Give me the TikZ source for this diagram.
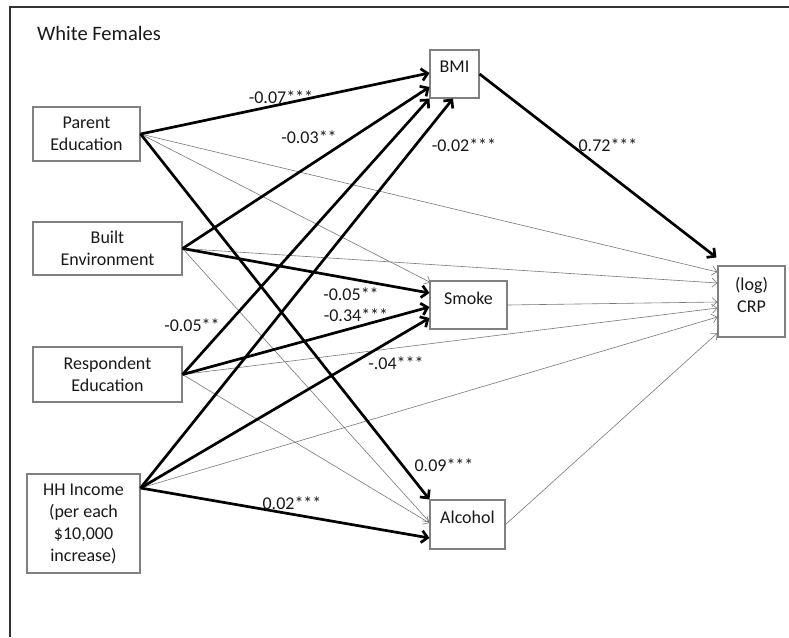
\documentclass[tikz,border=0pt]{standalone}
\usepackage{fontspec}
\setmainfont{Carlito}
\usetikzlibrary{arrows.meta,calc}
\definecolor{boxgray}{RGB}{128,128,128}
\definecolor{linegray}{RGB}{120,120,120}
\definecolor{txt}{RGB}{25,25,25}
\definecolor{framec}{RGB}{50,50,50}
\begin{document}
\begin{tikzpicture}[x=1pt,y=-1pt,
  box/.style={draw=boxgray, line width=1.1pt, fill=white, inner sep=0pt, align=center,
    font=\fontsize{18}{22}\selectfont, text=txt},
  rbox/.style={box, text depth=14pt},
  strong/.style={line width=2.7pt, black, -{Straight Barb[length=6pt,width=12pt]}},
  weak/.style={line width=0.6pt, linegray, -{Straight Barb[length=5pt,width=9pt]}},
  lbl/.style={font=\fontsize{18}{22}\selectfont, text=txt, inner sep=0pt},
]
\useasboundingbox (0,0) rectangle (789,637);
\fill[white] (0,0) rectangle (789,637);
% frame
\draw[framec, line width=1.4pt] (10,637) -- (10,7) -- (789,7);
\node[lbl, font=\fontsize{20.5}{24}\selectfont] (title) at (99,33) {White Females};

% boxes
\node[box, minimum width=107pt, minimum height=54pt] (pe) at (86.5,134) {Parent\\Education};
\node[box, minimum width=149pt, minimum height=53pt] (be) at (107.5,248.5) {Built\\Environment};
\node[box, minimum width=149pt, minimum height=55pt] (re) at (107.5,374.5) {Respondent\\Education};
\node[box, minimum width=113pt, minimum height=99pt] (hh) at (83.5,523.5) {HH Income\\(per each\\\$10,000\\increase)};
\node[rbox, minimum width=49pt, minimum height=48pt] (bmi) at (454.5,74) {BMI};
\node[rbox, minimum width=77pt, minimum height=48pt] (smoke) at (468.5,305) {Smoke};
\node[rbox, minimum width=75pt, minimum height=49pt] (alc) at (467.5,524.5) {Alcohol};
\node[box, minimum width=67pt, minimum height=71pt, text depth=13pt] (crp) at (751.5,301.5) {(log)\\CRP};

\coordinate (hhs) at ([yshift=35.5pt]hh.east);

% thin paths
\draw[weak] (pe.east) -- ([xshift=1pt,yshift=-2pt]smoke.north west);
\draw[weak] (pe.east) -- ([yshift=29.5pt]crp.west);
\draw[weak] (be.east) -- ([yshift=18.5pt]crp.west);
\draw[weak] (be.east) -- ([yshift=2.5pt]alc.west);
\draw[weak] (re.east) -- ([yshift=-6.5pt]crp.west);
\draw[weak] (re.east) -- ([yshift=1.5pt]alc.west);
\draw[weak] (smoke.east) -- ([yshift=-0.5pt]crp.west);
\draw[weak] (hhs) -- ([yshift=-15.5pt]crp.west);
\draw[weak] (alc.east) -- ([yshift=-31.5pt]crp.west);

% thick paths
\draw[strong] (pe.east) -- ([yshift=1pt]bmi.west);
\draw[strong] (be.east) -- ([yshift=-13pt]bmi.west);
\draw[strong] (re.east) -- (bmi.south west);
\draw[strong] (hhs) -- ([xshift=-1.5pt]bmi.south);
\draw[strong] (bmi.east) -- ([xshift=-1pt,yshift=8pt]crp.north west);
\draw[strong] (pe.east) -- (alc.north west);
\draw[strong] (be.east) -- ([yshift=12pt]smoke.west);
\draw[strong] (re.east) -- ([yshift=-2pt]smoke.west);
\draw[strong] (hhs) -- ([yshift=-13pt]smoke.west);
\draw[strong] (hhs) -- ([yshift=-13.5pt]alc.west);

% labels
\node[lbl] (l1) at (281,97) {-0.07***};
\node[lbl] (l2) at (309,137) {-0.03**};
\node[lbl] (l3) at (464,145) {-0.02***};
\node[lbl] (l4) at (608,145) {0.72***};
\node[lbl] (l5) at (351,294) {-0.05**};
\node[lbl] (l6) at (356,315) {-0.34***};
\node[lbl] (l7) at (192,325) {-0.05**};
\node[lbl] (l8) at (396,363) {-.04***};
\node[lbl] (l9) at (444,465) {0.09***};
\node[lbl] (l10) at (292,503) {0.02***};
\end{tikzpicture}
\end{document}
